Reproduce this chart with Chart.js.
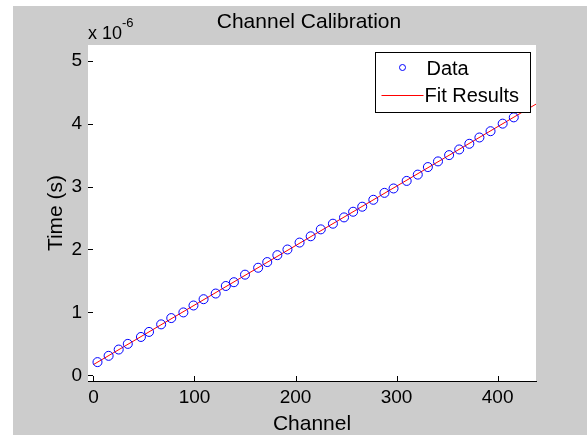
<!DOCTYPE html>
<html>
<head>
<meta charset="utf-8">
<script src="https://cdn.jsdelivr.net/npm/chart.js@4"></script>
<style>
  html, body { margin: 0; padding: 0; background: #fff; }
  #panel { position: absolute; left: 13px; top: 6px; right: 0; bottom: 0; background: #cccccc; }
  #wrap { position: absolute; left: 0; top: 0; width: 587px; height: 435px; }
</style>
</head>
<body>
<div id="panel"></div>
<div id="wrap"><canvas id="calChart" width="587" height="435"></canvas></div>
<script>
// measured calibration points (channel, time in seconds)
const channels = [4, 15, 25, 34, 47, 55, 67, 77, 89, 99,
  109, 121, 131, 139, 150, 163, 172, 182, 192, 204,
  215, 225, 237, 248, 257, 266, 277, 288, 297, 310,
  321, 331, 341, 352, 362, 372, 382, 393, 405, 416];
const timesUs = [0.21, 0.31, 0.41, 0.50, 0.61, 0.69, 0.81, 0.91, 1.00, 1.11,
  1.21, 1.30, 1.42, 1.48, 1.60, 1.71, 1.80, 1.91, 2.00, 2.11,
  2.21, 2.32, 2.41, 2.51, 2.60, 2.68, 2.79, 2.90, 2.97, 3.09,
  3.19, 3.31, 3.40, 3.50, 3.59, 3.68, 3.78, 3.88, 4.00, 4.10];

// fitted line end points
const fitChannels = [0, 450];
const fitTimesUs = [0.171, 4.424];

const xTicks = [0, 100, 200, 300, 400];
const yTicksUs = [0, 1, 2, 3, 4, 5];

const DATA_COLOR = "#0000ff";
const FIT_COLOR = "#ff0000";
const FONT = "'Liberation Sans', Arial, Helvetica, sans-serif";
Chart.defaults.color = "#000";
Chart.defaults.font.family = FONT;

const dataPoints = channels.map((c, i) => ({ x: c, y: timesUs[i] * 1e-6 }));
const fitPoints = fitChannels.map((c, i) => ({ x: c, y: fitTimesUs[i] * 1e-6 }));

// white axes box + inward tick marks like matlab
const matlabAxes = {
  id: "matlabAxes",
  beforeDatasetsDraw(chart) {
    const { ctx, chartArea } = chart;
    ctx.save();
    ctx.fillStyle = "#fff";
    ctx.fillRect(chartArea.left, chartArea.top, chartArea.right - chartArea.left, chartArea.bottom - chartArea.top);
    ctx.restore();
  },
  afterDatasetsDraw(chart) {
    const { ctx, chartArea, scales } = chart;
    ctx.save();
    ctx.strokeStyle = "#000";
    ctx.lineWidth = 1;
    scales.x.ticks.forEach((t) => {
      const px = Math.round(scales.x.getPixelForValue(t.value)) + 0.5;
      ctx.beginPath();
      ctx.moveTo(px, chartArea.bottom);
      ctx.lineTo(px, chartArea.bottom - 5);
      ctx.stroke();
    });
    scales.y.ticks.forEach((t) => {
      const py = Math.round(scales.y.getPixelForValue(t.value)) + 0.5;
      ctx.beginPath();
      ctx.moveTo(chartArea.left, py);
      ctx.lineTo(chartArea.left + 5, py);
      ctx.stroke();
    });
    ctx.restore();
  },
};

// title, exponent label and boxed legend
const matlabText = {
  id: "matlabText",
  afterDraw(chart) {
    const { ctx, chartArea } = chart;
    const ds = chart.data.datasets;
    ctx.save();
    ctx.fillStyle = "#000";
    ctx.textBaseline = "middle";

    ctx.font = "21px " + FONT;
    ctx.textAlign = "center";
    ctx.fillText("Channel Calibration", (chartArea.left + chartArea.right) / 2 - 3, 22);

    ctx.textAlign = "left";
    ctx.font = "18px " + FONT;
    ctx.fillText("x 10", chartArea.left, 34);
    ctx.font = "13px " + FONT;
    ctx.fillText("-6", chartArea.left + 34, 23);

    // legend
    const bx = chartArea.right - 160.5, by = chartArea.top + 7.5, bw = 155, bh = 60;
    ctx.fillStyle = "#fff";
    ctx.fillRect(bx, by, bw, bh);
    ctx.strokeStyle = "#000";
    ctx.lineWidth = 1;
    ctx.strokeRect(bx, by, bw, bh);

    ctx.strokeStyle = DATA_COLOR;
    ctx.beginPath();
    ctx.arc(bx + 27, by + 15, 3, 0, Math.PI * 2);
    ctx.stroke();

    ctx.strokeStyle = FIT_COLOR;
    ctx.beginPath();
    ctx.moveTo(bx + 6, by + 43);
    ctx.lineTo(bx + 48, by + 43);
    ctx.stroke();

    ctx.fillStyle = "#000";
    ctx.font = "20px " + FONT;
    ctx.fillText(ds[0].label, bx + 51, by + 17);
    ctx.fillText(ds[1].label, bx + 49, by + 44);
    ctx.restore();
  },
};

new Chart(document.getElementById("calChart"), {
  type: "scatter",
  data: {
    datasets: [
      {
        label: "Data",
        data: dataPoints,
        showLine: false,
        borderColor: DATA_COLOR,
        backgroundColor: "rgba(0,0,0,0)",
        pointRadius: 4.5,
        pointBorderWidth: 1,
        order: 1,
      },
      {
        label: "Fit Results",
        data: fitPoints,
        showLine: true,
        borderColor: FIT_COLOR,
        borderWidth: 1,
        pointRadius: 0,
        order: 2,
      },
    ],
  },
  options: {
    responsive: false,
    animation: false,
    events: [],
    layout: { padding: { top: 45, right: 51, bottom: 0, left: 0 } },
    plugins: {
      legend: { display: false },
      tooltip: { enabled: false },
    },
    scales: {
      x: {
        type: "linear",
        min: -5.4,
        max: 438,
        afterBuildTicks: (scale) => { scale.ticks = xTicks.map((v) => ({ value: v })); },
        afterFit: (scale) => { scale.height = 54; },
        grid: { display: false, drawTicks: false },
        border: { display: true, color: "#000", width: 1 },
        ticks: { font: { size: 19 }, padding: 5, maxRotation: 0 },
        title: { display: true, text: "Channel", font: { size: 21, lineHeight: 1 }, padding: 0 },
      },
      y: {
        type: "linear",
        min: -0.09e-6,
        max: 5.25e-6,
        afterBuildTicks: (scale) => { scale.ticks = yTicksUs.map((v) => ({ value: v * 1e-6 })); },
        afterFit: (scale) => { scale.width = 88; },
        grid: { display: false, drawTicks: false },
        border: { display: true, color: "#000", width: 1 },
        ticks: {
          font: { size: 19 },
          padding: 6,
          callback: (v) => String(Math.round(v * 1e6)),
        },
        title: { display: true, text: "Time (s)", font: { size: 21, lineHeight: 1 }, padding: { top: 46, bottom: 0 } },
      },
    },
  },
  plugins: [matlabAxes, matlabText],
});
</script>
</body>
</html>
